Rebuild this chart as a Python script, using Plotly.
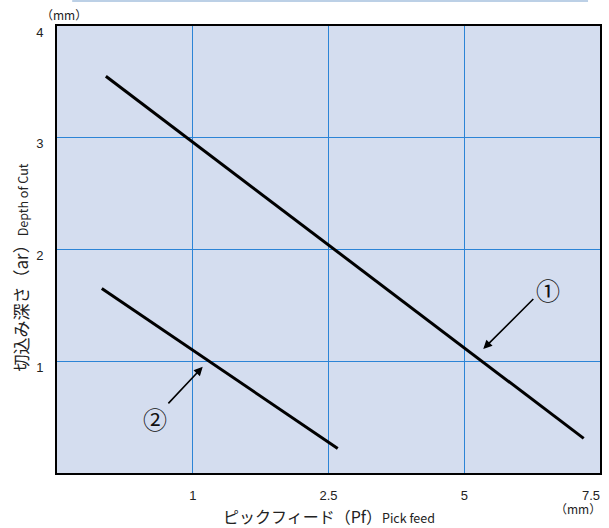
import numpy as np
import plotly.graph_objects as go

# eixo x nao linear: cada rotulo ocupa uma divisao igual
tick_vals = [0, 1, 2.5, 5, 7.5]
tick_labels = ["1", "2.5", "5", "7.5"]

# linha 1 e linha 2 (pick feed mm, depth of cut mm)
pf_1 = [0.36, 7.2]
ar_1 = [3.55, 0.31]
pf_2 = [0.33, 2.67]
ar_2 = [1.65, 0.22]

def pos(v):
    return np.interp(v, tick_vals, range(len(tick_vals)))

fig = go.Figure()
for xs, ys in [(pf_1, ar_1), (pf_2, ar_2)]:
    fig.add_trace(go.Scatter(x=pos(xs), y=ys, mode="lines",
                             line=dict(color="black", width=3), showlegend=False))
# traco vazio so para o eixo do ultimo rotulo existir
fig.add_trace(go.Scatter(x=[None], y=[None], xaxis="x2", showlegend=False))

jp = "Noto Sans CJK JP"
lat = "Liberation Sans"

fig.update_layout(
    width=609, height=528,
    margin=dict(l=57, r=7, t=26, b=55),
    paper_bgcolor="white", plot_bgcolor="#d4ddef",
    font=dict(family=lat, size=13, color="#222"),
    xaxis=dict(range=[0, 4], tickvals=[1, 2, 3], ticktext=tick_labels[:3],
               showgrid=True, gridcolor="#2c84d6", gridwidth=1,
               showline=True, linecolor="black", linewidth=2, mirror=True,
               ticks="", ticklabelstandoff=9, zeroline=False),
    # o 7.5 fica alinhado a direita na borda, como no original
    xaxis2=dict(range=[0, 4], overlaying="x", side="bottom", anchor="y",
                tickvals=[4], ticktext=tick_labels[3:],
                ticklabelposition="outside left", ticklabelstandoff=13,
                showgrid=False, showline=False, ticks="", zeroline=False),
    yaxis=dict(range=[0, 4], tickvals=[1, 2, 3, 4],
               showgrid=True, gridcolor="#2c84d6", gridwidth=1,
               showline=True, linecolor="black", linewidth=2, mirror=True,
               ticks="", ticklabelstandoff=9, ticklabelshift=6, zeroline=False),
)

# linha decorativa no topo
fig.add_shape(type="line", xref="paper", yref="paper", x0=0.028, x1=0.978,
              y0=1.056, y1=1.056, line=dict(color="#bcd0e6", width=2))

fig.add_annotation(xref="paper", yref="paper", x=-0.033, y=1.026, yanchor="middle",
                   xanchor="left", text="（mm）", showarrow=False,
                   font=dict(family=jp, size=12))
fig.add_annotation(xref="paper", yref="paper", x=1.005, y=-0.08, yanchor="middle",
                   xanchor="right", text="（mm）", showarrow=False,
                   font=dict(family=jp, size=12))
fig.add_annotation(xref="paper", yref="paper", x=-0.068, y=0.46, xanchor="center",
                   yanchor="middle",
                   text="切込み深さ（ar）<span style='font-size:12.5px'>Depth of Cut</span>",
                   textangle=-90, showarrow=False, font=dict(family=jp, size=17))
fig.add_annotation(xref="paper", yref="paper", x=0.5, y=-0.096, yanchor="middle",
                   text="ピックフィード（Pf）<span style='font-size:12.5px'>Pick feed</span>",
                   showarrow=False, font=dict(family=jp, size=16))

# setas com numeros circulados
fig.add_annotation(x=pos(5.35), y=1.11, ax=pos(6.3), ay=1.57, xref="x", yref="y",
                   axref="x", ayref="y", text="", showarrow=True, arrowhead=2,
                   arrowsize=1.1, arrowwidth=1.6, arrowcolor="black")
fig.add_annotation(x=pos(6.55), y=1.64, text="①", showarrow=False,
                   font=dict(family=jp, size=24, color="#111"))
fig.add_annotation(x=pos(1.11), y=0.95, ax=pos(0.81), ay=0.61, xref="x", yref="y",
                   axref="x", ayref="y", text="", showarrow=True, arrowhead=2,
                   arrowsize=1.1, arrowwidth=1.6, arrowcolor="black")
fig.add_annotation(x=pos(0.72), y=0.49, text="②", showarrow=False,
                   font=dict(family=jp, size=24, color="#111"))

# tira a margem padrao do body para a figura ocupar a janela toda
fig.write_html("out.html", config={"displayModeBar": False},
               post_script="document.body.style.margin='0';")
